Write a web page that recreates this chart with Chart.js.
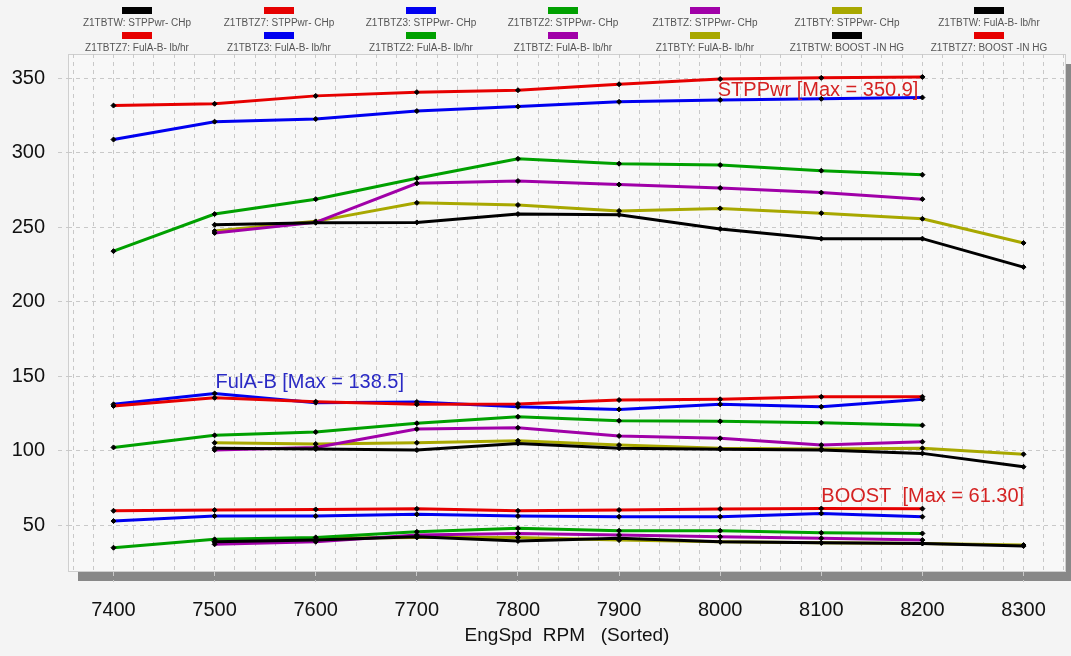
<!DOCTYPE html>
<html>
<head>
<meta charset="utf-8">
<script src="https://cdn.jsdelivr.net/npm/chart.js@4/dist/chart.umd.min.js"></script>
<style>
  html, body { margin: 0; padding: 0; background: #f4f4f4; }
  #wrap { width: 1071px; height: 656px; position: relative; }
</style>
</head>
<body>
<div id="wrap"><canvas id="chart"></canvas></div>
<script>
const rpm = [7400, 7500, 7600, 7700, 7800, 7900, 8000, 8100, 8200, 8300];

// STPPwr - CHp
const pwrW  = [null, 251.7, 253.1, 253.3, 258.9, 258.4, 248.9, 242.4, 242.4, 223.3];
const pwrZ7 = [331.7, 332.9, 338.2, 340.7, 342.0, 346.0, 349.5, 350.3, 350.9, null];
const pwrZ3 = [308.9, 320.9, 322.7, 328.0, 331.0, 334.2, 335.5, 336.2, 337.1, null];
const pwrZ2 = [234.0, 258.9, 268.9, 282.9, 296.0, 292.7, 291.8, 288.0, 285.3, null];
const pwrZ  = [null, 246.2, 253.3, 279.5, 281.1, 278.7, 276.4, 273.3, 268.9, null];
const pwrY  = [null, 247.5, 254.0, 266.4, 265.0, 261.0, 262.7, 259.5, 255.7, 239.5];

// FulA-B - lb/hr
const fuelW  = [null, 101.7, 101.2, 100.5, 105.0, 101.7, 101.0, 100.5, 98.3, 89.3];
const fuelZ7 = [130.1, 135.6, 133.0, 131.2, 131.4, 134.1, 134.6, 136.3, 136.3, null];
const fuelZ3 = [131.2, 138.5, 132.3, 132.8, 129.6, 127.8, 131.2, 129.6, 134.6, null];
const fuelZ2 = [102.3, 110.4, 112.6, 118.5, 122.9, 120.2, 119.8, 118.9, 117.1, null];
const fuelZ  = [null, 100.5, 102.3, 114.6, 115.5, 110.0, 108.4, 103.9, 106.1, null];
const fuelY  = [null, 105.4, 104.6, 105.4, 106.8, 103.9, 101.7, 101.2, 101.7, 97.7];

// BOOST -IN HG
const boostW  = [null, 39.0, 40.1, 42.4, 39.5, 41.3, 39.0, 38.3, 37.9, 36.1];
const boostZ7 = [59.8, 60.3, 60.7, 61.1, 59.8, 60.3, 61.0, 61.3, 61.2, null];
const boostZ3 = [52.9, 56.2, 56.2, 57.4, 56.2, 55.8, 55.8, 58.0, 55.8, null];
const boostZ2 = [35.0, 40.6, 41.9, 45.7, 48.0, 46.4, 46.4, 45.0, 44.6, null];
const boostZ  = [null, 37.3, 39.0, 43.5, 44.6, 43.5, 42.4, 41.3, 40.1, null];
const boostY  = [null, 39.0, 41.3, 41.9, 41.9, 40.1, 39.0, 38.3, 37.9, 36.8];

const yTicks = [50, 100, 150, 200, 250, 300, 350];
const xTicks = [7400, 7500, 7600, 7700, 7800, 7900, 8000, 8100, 8200, 8300];

const channels = ['Z1TBTW', 'Z1TBTZ7', 'Z1TBTZ3', 'Z1TBTZ2', 'Z1TBTZ', 'Z1TBTY'];
const colors = ['#000000', '#e60000', '#0000f0', '#00a000', '#a000a8', '#a8a800'];

const groups = [
  { name: 'STPPwr', unit: 'STPPwr- CHp', series: [pwrW, pwrZ7, pwrZ3, pwrZ2, pwrZ, pwrY],
    note: 'STPPwr [Max = ', noteColor: '#d42222', align: 'right', dx: -4, dy: 14 },
  { name: 'FulA-B', unit: 'FulA-B- lb/hr', series: [fuelW, fuelZ7, fuelZ3, fuelZ2, fuelZ, fuelY],
    note: 'FulA-B [Max = ', noteColor: '#2a2ac4', align: 'left', dx: 1, dy: -11 },
  { name: 'BOOST', unit: 'BOOST -IN HG', series: [boostW, boostZ7, boostZ3, boostZ2, boostZ, boostY],
    note: 'BOOST  [Max = ', noteColor: '#d42222', align: 'left', dx: 0, dy: -12 }
];

const datasets = [];
groups.forEach(g => {
  g.series.forEach((vals, i) => {
    datasets.push({
      label: channels[i] + ': ' + g.unit,
      data: rpm.map((x, k) => ({ x: x, y: vals[k] })),
      borderColor: colors[i],
      backgroundColor: colors[i],
      borderWidth: 3,
      pointStyle: 'rectRot',
      pointRadius: 2.5,
      pointBackgroundColor: '#000',
      pointBorderColor: '#000',
      pointBorderWidth: 1,
      tension: 0
    });
  });
});

const LEGEND_COUNT = 14;

const decor = {
  id: 'decor',
  beforeDraw(chart) {
    const { ctx, chartArea: a } = chart;
    ctx.save();
    // 3D shadow
    ctx.fillStyle = '#888888';
    ctx.fillRect(a.left + 10, a.bottom, a.right - a.left - 5, 9);
    ctx.fillRect(a.right, a.top + 10, 5, a.bottom - a.top - 1);
    ctx.fillStyle = '#f8f8f8';
    ctx.fillRect(a.left, a.top, a.right - a.left, a.bottom - a.top);
    ctx.strokeStyle = '#cfcfcf';
    ctx.lineWidth = 1;
    ctx.strokeRect(a.left + 0.5, a.top + 0.5, a.right - a.left - 1, a.bottom - a.top - 1);
    ctx.restore();

    // legend: swatch above label, 7 per row
    ctx.save();
    ctx.font = '10px "Liberation Sans", Arial, sans-serif';
    ctx.textAlign = 'center';
    ctx.textBaseline = 'middle';
    chart.data.datasets.slice(0, LEGEND_COUNT).forEach((ds, i) => {
      const row = Math.floor(i / 7), col = i % 7;
      const cx = 137 + 142 * col;
      const sy = row === 0 ? 7 : 32;
      ctx.fillStyle = ds.borderColor;
      ctx.fillRect(cx - 15, sy, 30, 7);
      ctx.fillStyle = '#555555';
      ctx.fillText(ds.label, cx, sy + 16);
    });
    ctx.restore();
  },
  afterDatasetsDraw(chart) {
    const { ctx, scales: { x, y } } = chart;
    ctx.save();
    ctx.font = '20px "Liberation Sans", Arial, sans-serif';
    ctx.textBaseline = 'middle';
    groups.forEach(g => {
      let best = -Infinity, bx = null;
      g.series.forEach(vals => vals.forEach((v, k) => {
        if (v !== null && v > best) { best = v; bx = rpm[k]; }
      }));
      ctx.fillStyle = g.noteColor;
      ctx.textAlign = g.align;
      ctx.fillText(g.note + best.toPrecision(4) + ']', x.getPixelForValue(bx) + g.dx, y.getPixelForValue(best) + g.dy);
    });
    ctx.restore();
  }
};

new Chart(document.getElementById('chart'), {
  type: 'line',
  data: { datasets: datasets },
  options: {
    responsive: true,
    maintainAspectRatio: false,
    animation: false,
    layout: { padding: { top: 54, right: 5, left: 0, bottom: 0 } },
    plugins: {
      legend: { display: false },
      tooltip: { enabled: false }
    },
    scales: {
      x: {
        type: 'linear',
        min: 7355,
        max: 8342,
        afterFit: s => { s.height = 84; s.paddingLeft = 0; s.paddingRight = 0; },
        afterBuildTicks: s => {
          const t = [];
          for (let v = 7360; v <= 8340; v += 20) t.push({ value: v });
          s.ticks = t;
        },
        ticks: {
          autoSkip: false,
          maxRotation: 0,
          padding: 16,
          color: '#111',
          font: { family: '"Liberation Sans", Arial, sans-serif', size: 20 },
          callback: v => xTicks.includes(v) ? String(v) : ''
        },
        grid: {
          color: '#c9c9c9',
          tickLength: 10,
          tickColor: c => (c.tick && xTicks.includes(c.tick.value)) ? '#c9c9c9' : 'rgba(0,0,0,0)',
          tickBorderDash: [4, 4]
        },
        border: { display: false, dash: [4, 4] },
        title: {
          display: true,
          text: 'EngSpd  RPM   (Sorted)',
          color: '#111',
          font: { family: '"Liberation Sans", Arial, sans-serif', size: 19 },
          padding: { top: 2, bottom: 9 }
        }
      },
      y: {
        type: 'linear',
        min: 18.7,
        max: 366.3,
        afterFit: s => { s.width = 68; s.paddingTop = 0; s.paddingBottom = 0; },
        afterBuildTicks: s => { s.ticks = yTicks.map(v => ({ value: v })); },
        ticks: {
          padding: 13,
          color: '#111',
          font: { family: '"Liberation Sans", Arial, sans-serif', size: 20 }
        },
        grid: {
          color: '#c9c9c9',
          tickLength: 10,
          tickColor: '#c9c9c9',
          tickBorderDash: [4, 4]
        },
        border: { display: false, dash: [4, 4] }
      }
    }
  },
  plugins: [decor]
});
</script>
</body>
</html>
